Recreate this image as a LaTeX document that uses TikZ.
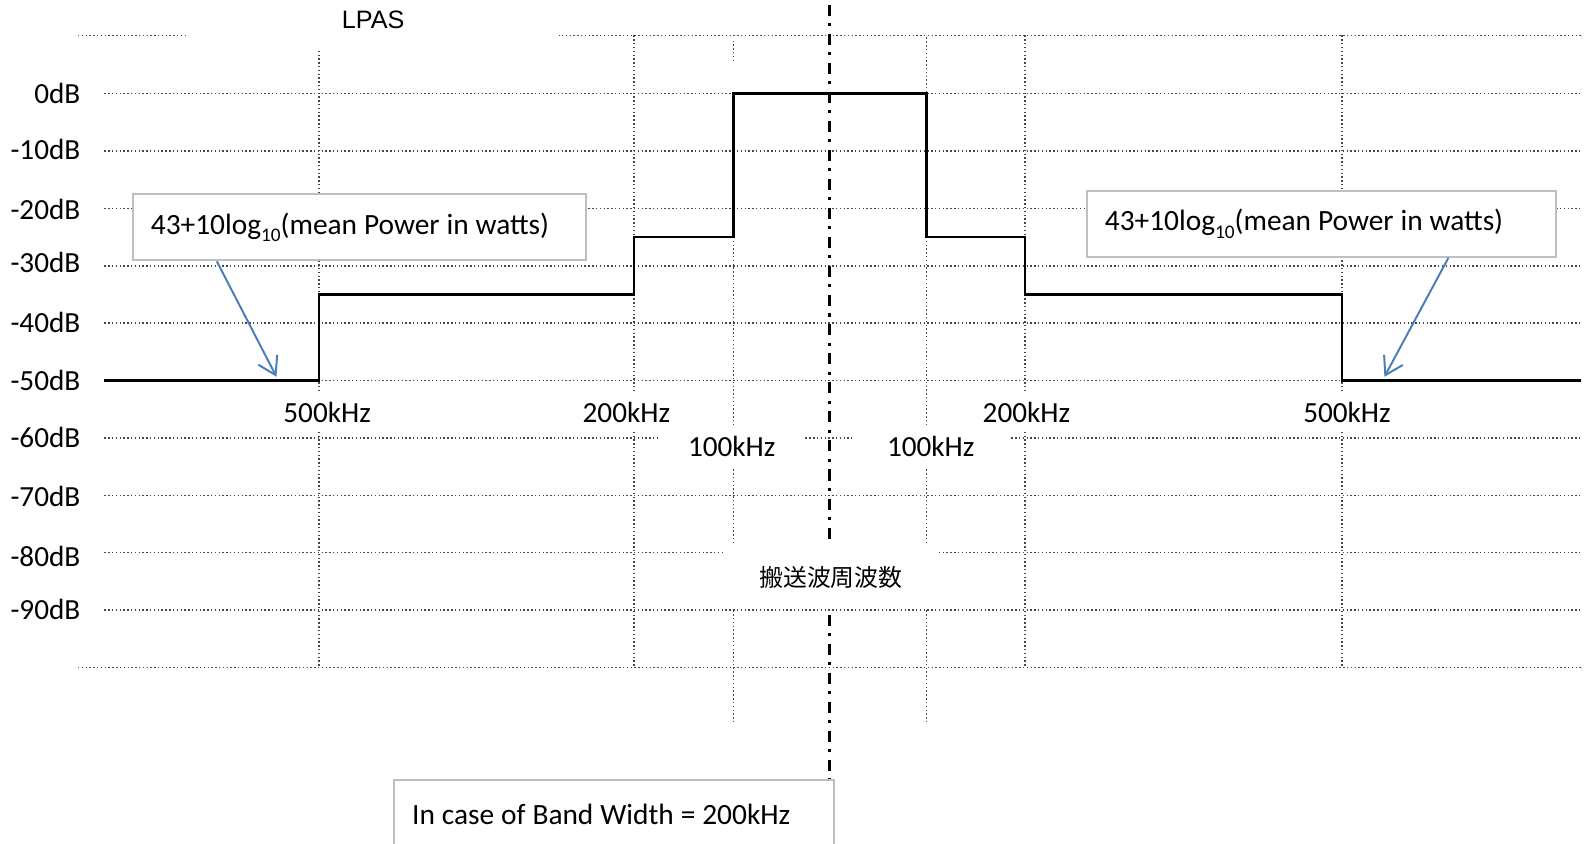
\documentclass[tikz,border=0pt]{standalone}
\usepackage{fontspec}
\setmainfont{Carlito}
\newfontfamily\lpasfont{Liberation Sans}
\newfontfamily\cjkfont{Noto Sans CJK JP}
\usetikzlibrary{arrows.meta}
\definecolor{arrowblue}{RGB}{74,126,187}
\definecolor{boxgray}{RGB}{191,191,191}
\tikzset{
  gridln/.style={draw=black!72, line width=0.4pt, dash pattern=on 0.4pt off 0.67pt},
  stepln/.style={draw=black, line width=0.72pt, line join=miter},
  centerln/.style={draw=black, line width=0.8pt, dash pattern=on 3.1pt off 2pt on 0.85pt off 2.2pt},
  lbl/.style={font=\fontsize{8.2}{10}\selectfont, inner sep=0pt},
  cover/.style={fill=white, inner sep=0pt},
  callout/.style={draw=boxgray, line width=0.55pt, fill=white, inner ysep=0pt, inner xsep=0.18cm, align=left, font=\fontsize{8.25}{10}\selectfont},
  bluearrow/.style={draw=arrowblue, line width=0.55pt, -{Straight Barb[length=1.7mm,width=2.1mm]}}
}
\newcommand{\subten}{\raisebox{-0.55ex}{\fontsize{5.4}{6}\selectfont 10}}
\newcommand{\calltext}[1]{\spaceskip=0.235em\relax\mbox{#1}}
\begin{document}
\begin{tikzpicture}[x=0.01cm,y=-0.01cm]
\clip (0,0) rectangle (1569,833);
\fill[white] (0,0) rectangle (1569,833);
% horizontal grid
\draw[gridln] (77,35) -- (1561,35);
\foreach \y in {92.5,149.2,205.8,262.5,319.1,375.8,432.4,489.1,545.7,602.4}
  \draw[gridln] (103,\y) -- (1561,\y);
\draw[gridln] (77,659) -- (1561,659);
% vertical grid
\foreach \x in {315,626,1012,1325}
  \draw[gridln] (\x,35) -- (\x,659);
\draw[gridln] (724,40) -- (724,62);
\draw[gridln] (724,234) -- (724,714);
\draw[gridln] (915,37) -- (915,92.5);
\draw[gridln] (915,234) -- (915,714);
% bottom box (needed for centre line end)
\node[callout, text width=3.98cm, minimum height=0.68cm, anchor=west] (bwbox) at (388,804) {\calltext{In case of Band Width = 200kHz}};
% centre line
\coordinate (ctop) at (819,5);
\draw[centerln] (ctop) -- (ctop |- bwbox.north);
% labels with white background
\node[cover, font=\lpasfont\fontsize{7.07}{9}\selectfont, minimum width=3.67cm, minimum height=0.54cm] (lpas) at (368.5,20) {LPAS};
\node[lbl, cover, minimum width=1.0cm, minimum height=0.40cm] (f500l) at (323,407) {500kHz};
\node[lbl, cover, minimum width=1.0cm, minimum height=0.365cm] (f200l) at (618.5,407) {200kHz};
\node[lbl, cover, minimum width=1.415cm, minimum height=0.415cm] (f100l) at (722.5,441) {100kHz};
\node[lbl, cover, minimum width=1.56cm, minimum height=0.415cm] (f100r) at (919,441) {100kHz};
\node[lbl, cover, minimum width=1.0cm, minimum height=0.365cm] (f200r) at (1013.5,407) {200kHz};
\node[lbl, cover, minimum width=1.0cm, minimum height=0.40cm] (f500r) at (1330,407) {500kHz};
\node[cover, font=\cjkfont\fontsize{6.7}{8}\selectfont, minimum width=2.09cm, minimum height=0.62cm] (carrier) at (820.5,570) {搬送波周波数};
% dB labels
\node[lbl, anchor=east] (db0) at (80,92) {0dB};
\node[lbl, anchor=east] (db10) at (80,148) {-10dB};
\node[lbl, anchor=east] (db20) at (80,207) {-20dB};
\node[lbl, anchor=east] (db30) at (80,259) {-30dB};
\node[lbl, anchor=east] (db40) at (80,318) {-40dB};
\node[lbl, anchor=east] (db50) at (80,376) {-50dB};
\node[lbl, anchor=east] (db60) at (80,432) {-60dB};
\node[lbl, anchor=east] (db70) at (80,490) {-70dB};
\node[lbl, anchor=east] (db80) at (80,549) {-80dB};
\node[lbl, anchor=east] (db90) at (80,602) {-90dB};
% spectrum mask
\draw[stepln] (103,375.8) -- (315,375.8) -- (315,290.8) -- (626,290.8) -- (626,234) -- (724,234)
  -- (724,92.5) -- (915,92.5) -- (915,234) -- (1012,234) -- (1012,290.8) -- (1325,290.8)
  -- (1325,375.8) -- (1561,375.8);
% callouts
\node[callout, text width=4.11cm, minimum height=0.65cm, anchor=west] (box1) at (130,224.5) {\calltext{43+10log\subten(mean Power in watts)}};
\node[callout, text width=4.27cm, minimum height=0.65cm, anchor=west] (box2) at (1072,221) {\calltext{43+10log\subten(mean Power in watts)}};
\coordinate (a1e) at (273,372);
\coordinate (a2e) at (1367,372);
\draw[bluearrow] ([xshift=0.84cm]box1.south west) -- (a1e);
\draw[bluearrow] ([xshift=3.58cm]box2.south west) -- (a2e);
\end{tikzpicture}
\end{document}
